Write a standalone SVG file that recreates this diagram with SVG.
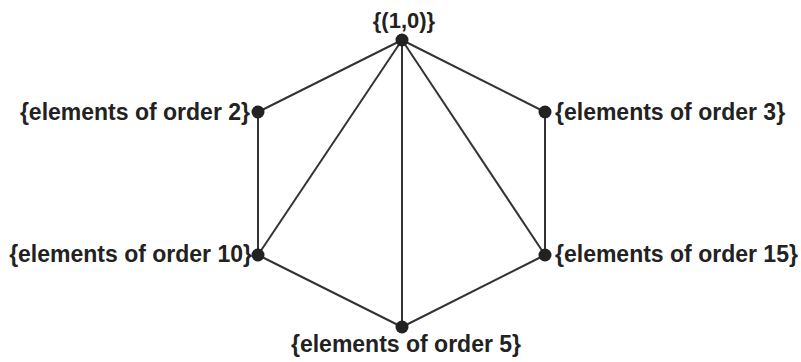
<svg xmlns="http://www.w3.org/2000/svg" width="801" height="362" viewBox="0 0 801 362">
<style>
.e{stroke:#333;stroke-width:2;fill:none}
.n{fill:#222}
.t{font-family:"Liberation Sans",Arial,sans-serif;font-weight:bold;font-size:23px;fill:#222}
</style>
<rect width="801" height="362" fill="#fff"/>
<g id="connectors">
<line class="e" x1="402" y1="40" x2="258" y2="112"/>
<line class="e" x1="402" y1="40" x2="545" y2="112"/>
<line class="e" x1="258" y1="112" x2="258" y2="255"/>
<line class="e" x1="545" y1="112" x2="545" y2="255"/>
<line class="e" x1="258" y1="255" x2="402" y2="327"/>
<line class="e" x1="545" y1="255" x2="402" y2="327"/>
<line class="e" x1="402" y1="40" x2="258" y2="255"/>
<line class="e" x1="402" y1="40" x2="545" y2="255"/>
<line class="e" x1="402" y1="40" x2="402" y2="327"/>
</g>
<g id="n10"><circle class="n" cx="402" cy="40" r="6.5"/><text class="t" x="404" y="28" text-anchor="middle" style="font-size:22px">{(1,0)}</text></g>
<g id="n2"><circle class="n" cx="258" cy="112" r="6.5"/><text class="t" x="250" y="120" text-anchor="end">{elements of order 2}</text></g>
<g id="n3"><circle class="n" cx="545" cy="112" r="6.5"/><text class="t" x="555" y="120">{elements of order 3}</text></g>
<g id="n10b"><circle class="n" cx="258" cy="255" r="6.5"/><text class="t" x="252" y="262" text-anchor="end">{elements of order 10}</text></g>
<g id="n15"><circle class="n" cx="545" cy="255" r="6.5"/><text class="t" x="555" y="262">{elements of order 15}</text></g>
<g id="n5"><circle class="n" cx="402" cy="327" r="6.5"/><text class="t" x="406" y="352" text-anchor="middle">{elements of order 5}</text></g>
</svg>
